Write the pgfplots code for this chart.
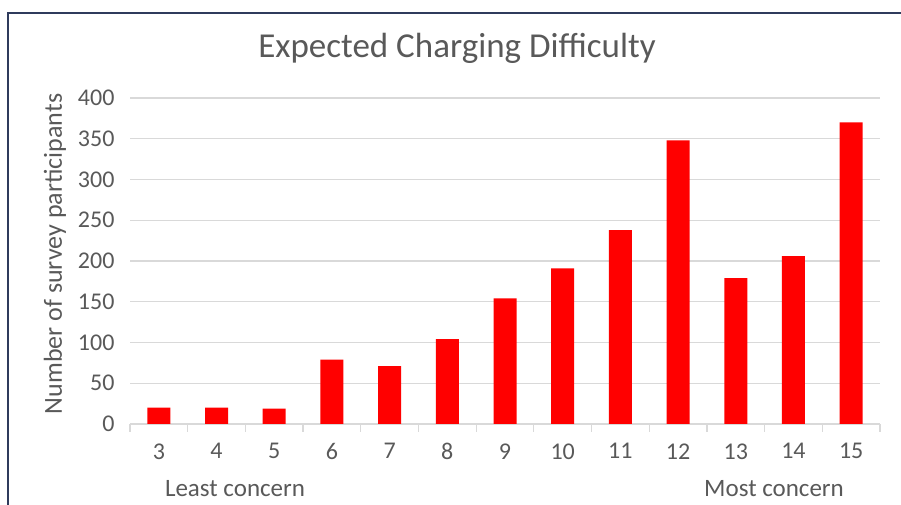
\documentclass[border=0pt]{standalone}
\usepackage{fontspec}
\setmainfont{Carlito}
\usepackage{pgfplots}
\pgfplotsset{compat=1.18}
\definecolor{txt}{HTML}{595959}
\definecolor{grd}{HTML}{D9D9D9}
\definecolor{frm}{HTML}{2F3B5C}
\begin{document}
\begin{tikzpicture}[x=1pt,y=1pt]
\useasboundingbox (0,0) rectangle (901,505);
\draw[frm, line width=1.5pt] (8,0) -- (8,492) -- (901,492);
\begin{axis}[
  at={(130pt,81pt)}, anchor=origin,
  scale only axis, width=750pt, height=326pt,
  xmin=2.5, xmax=15.5, ymin=0, ymax=400,
  ybar, bar width=23pt,
  xtick={3,4,...,15},
  minor xtick={2.5,3.5,...,15.5},
  ytick={0,50,...,400},
  ymajorgrids, grid style={grd, line width=1.2pt},
  axis lines*=left,
  y axis line style={draw=none},
  x axis line style={grd, line width=1.2pt},
  major tick length=0pt,
  minor tick length=8pt,
  tick align=outside,
  minor x tick style={grd, line width=1.2pt},
  major tick style={draw=none},
  /pgf/number format/assume math mode=true,
  ticklabel style={font=\fontsize{24}{28}\selectfont, text=txt},
  yticklabel style={xshift=-12pt},
  xticklabel style={yshift=-16pt},
  clip=false,
]
\addplot[fill=red, draw=none, bar shift=0pt] coordinates {
(3,20) (4,20) (5,19) (6,79) (7,71) (8,104) (9,154) (10,191) (11,238) (12,348) (13,179) (14,206) (15,370)
};
\end{axis}
\node[text=txt, font=\fontsize{35}{40}\selectfont] at (457,457) {Expected Charging Difficulty};
\node[text=txt, font=\fontsize{26}{30}\selectfont, rotate=90] at (55,251) {Number of survey participants};
\node[text=txt, font=\fontsize{25}{30}\selectfont] at (235,16) {Least concern};
\node[text=txt, font=\fontsize{25}{30}\selectfont] at (774,16) {Most concern};
\end{tikzpicture}
\end{document}
